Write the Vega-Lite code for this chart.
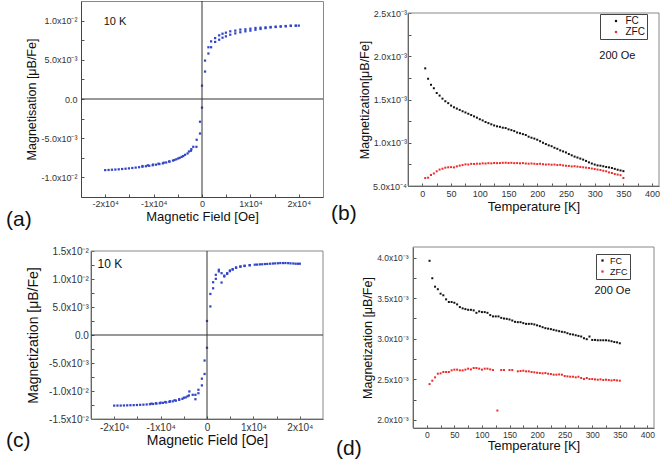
{
"$schema": "https://vega.github.io/schema/vega-lite/v6.json",
"autosize": {"type": "pad"},
"padding": {"left": 5, "top": 0, "right": 0, "bottom": 0},
"background": "white",
"columns": 2,
"align": "each",
"bounds": "flush",
"spacing": {"row": 50, "column": 85},
"resolve": {"scale": {"color": "independent"}, "legend": {"color": "independent"}},
"config": {
  "font": "Liberation Sans",
  "view": {"stroke": "#888", "strokeWidth": 1},
  "axis": {"grid": false, "domainColor": "#444", "domainWidth": 1, "tickColor": "#555", "tickSize": -3, "labelColor": "#333", "labelFont": "Liberation Sans", "labelFontSize": 9, "titleFont": "Liberation Sans", "titleFontWeight": "normal", "titleColor": "#111", "labelOverlap": false, "labelSeparation": 0, "labelFlush": false},
  "title": {"font": "Liberation Sans", "fontWeight": "normal", "color": "#111", "fontSize": 21},
  "legend": {"labelFont": "Liberation Sans", "labelColor": "#111"}
},
"concat": [
  {"width": 242, "height": 196,
   "title": {"text": "(a)", "orient": "bottom", "anchor": "start", "frame": "group", "align": "left", "dx": -75, "dy": 4, "offset": -18},
   "layer": [
    {"data": {"values": [
      {"H":20000,"M":0.00936},{"H":19380,"M":0.00936},{"H":18340,"M":0.00936},{"H":17300,"M":0.00931},{"H":16260,"M":0.00927},{"H":15220,"M":0.00923},{"H":14170,"M":0.00919},{"H":13130,"M":0.00914},{"H":12090,"M":0.0091},{"H":11050,"M":0.00906},{"H":10000,"M":0.00897},{"H":8965,"M":0.00889},{"H":7920,"M":0.00885},{"H":6880,"M":0.00872},{"H":5840,"M":0.00863},{"H":4940,"M":0.00846},{"H":4240,"M":0.00833},{"H":3550,"M":0.00812},{"H":2715,"M":0.00777},{"H":1880,"M":0.00735},{"H":1326,"M":0.0066},
      {"H":19380,"M":0.00934},{"H":18340,"M":0.00932},{"H":17300,"M":0.00927},{"H":16260,"M":0.00923},{"H":15220,"M":0.00918},{"H":14170,"M":0.00912},{"H":13130,"M":0.00903},{"H":12090,"M":0.00893},{"H":11050,"M":0.00883},{"H":10000,"M":0.00872},{"H":8965,"M":0.00863},{"H":7920,"M":0.00851},{"H":6880,"M":0.00837},{"H":5840,"M":0.0082},{"H":4940,"M":0.00799},{"H":4240,"M":0.00782},{"H":3550,"M":0.00756},{"H":2715,"M":0.00728},{"H":1880,"M":0.0066},{"H":1326,"M":0.0058},{"H":630,"M":0.0049},{"H":630,"M":0.0035},
      {"H":0,"M":0.0017},{"H":0,"M":-0.0011},
      {"H":-20000,"M":-0.00907},{"H":-19300,"M":-0.00905},{"H":-18600,"M":-0.00902},{"H":-17900,"M":-0.009},{"H":-17200,"M":-0.00897},{"H":-16500,"M":-0.00893},{"H":-15800,"M":-0.00889},{"H":-15100,"M":-0.00885},{"H":-14400,"M":-0.0088},{"H":-13700,"M":-0.00875},{"H":-13000,"M":-0.0087},{"H":-12300,"M":-0.00864},{"H":-11600,"M":-0.00858},{"H":-10900,"M":-0.00852},{"H":-10200,"M":-0.00845},{"H":-9500,"M":-0.00838},{"H":-8800,"M":-0.0083},{"H":-8100,"M":-0.00821},{"H":-7400,"M":-0.0081},{"H":-6700,"M":-0.00798},{"H":-6000,"M":-0.00785},{"H":-5300,"M":-0.00769},{"H":-4600,"M":-0.0075},{"H":-3880,"M":-0.00728},{"H":-2980,"M":-0.00695},{"H":-2280,"M":-0.0066},{"H":-1800,"M":-0.0061},{"H":-1150,"M":-0.0061},{"H":-1100,"M":-0.0052},{"H":-410,"M":-0.0044},{"H":-410,"M":-0.0029},
      {"H":-12300,"M":-0.00855},{"H":-11200,"M":-0.00846},{"H":-10100,"M":-0.00836},{"H":-9000,"M":-0.00825},{"H":-7900,"M":-0.00812},{"H":-6800,"M":-0.00797},{"H":-5700,"M":-0.00778},{"H":-4900,"M":-0.00758},{"H":-4200,"M":-0.00738},{"H":-3500,"M":-0.00712},{"H":-2700,"M":-0.0067},{"H":-2200,"M":-0.0064}
    ]},
     "mark": {"type": "square", "size": 5, "color": "#3246c8", "opacity": 1},
     "encoding": {
      "x": {"field": "H", "type": "quantitative", "scale": {"domain": [-25000, 25000], "nice": false, "zero": false},
            "axis": {"tickCount": 100, "labelOverlap": false, "title": "Magnetic Field [Oe]", "values": [-20000,-15000,-10000,-5000,0,5000,10000,15000,20000], "labelExpr": "round(datum.value/1000)==20?'2x10⁴':round(datum.value/1000)==10?'1x10⁴':round(datum.value/1000)==0?'0':round(datum.value/1000)==-10?'-1x10⁴':round(datum.value/1000)==-20?'-2x10⁴':''", "labelPadding": 5, "titlePadding": 2, "titleFontSize": 13, "labelFontSize": 9}},
      "y": {"field": "M", "type": "quantitative", "scale": {"domain": [-0.0125, 0.0125], "nice": false, "zero": false},
            "axis": {"tickCount": 100, "labelOverlap": false, "title": "Magnetisation [μB/Fe]", "values": [-0.01,-0.0075,-0.005,-0.0025,0,0.0025,0.005,0.0075,0.01], "labelExpr": "round(datum.value*4000)==40?'1.0x10⁻²':round(datum.value*4000)==20?'5.0x10⁻³':round(datum.value*4000)==0?'0.0':round(datum.value*4000)==-20?'-5.0x10⁻³':round(datum.value*4000)==-40?'-1.0x10⁻²':''", "labelPadding": 7, "titlePadding": 2, "titleFontSize": 12.5, "labelFontSize": 9}}
     }},
    {"data": {"values": [{}]}, "mark": {"type": "rule", "color": "#333", "strokeWidth": 1}, "encoding": {"y": {"datum": 0}}},
    {"data": {"values": [{}]}, "mark": {"type": "rule", "color": "#333", "strokeWidth": 1}, "encoding": {"x": {"datum": 0}}},
    {"data": {"values": [{}]}, "mark": {"type": "text", "fontSize": 11, "align": "left", "baseline": "middle", "color": "#111"}, "encoding": {"x": {"datum": -20300}, "y": {"datum": 0.00985}, "text": {"value": "10 K"}}}
   ]},
  {"width": 251, "height": 185,
   "view": {"stroke": null},
   "title": {"text": "(b)", "orient": "bottom", "anchor": "start", "frame": "group", "align": "left", "dx": -77, "dy": 8, "offset": -18},
   "layer": [
    {"data": {"values": [
      {"T":5,"M":0.00186,"s":"FC"},{"T":10,"M":0.00174,"s":"FC"},{"T":15,"M":0.00167,"s":"FC"},{"T":20,"M":0.00163,"s":"FC"},{"T":25,"M":0.001575,"s":"FC"},{"T":30,"M":0.001545,"s":"FC"},{"T":35,"M":0.00151,"s":"FC"},{"T":40,"M":0.00148,"s":"FC"},{"T":45,"M":0.001458,"s":"FC"},{"T":50,"M":0.00143,"s":"FC"},{"T":55,"M":0.00141,"s":"FC"},{"T":60,"M":0.001395,"s":"FC"},{"T":65,"M":0.00138,"s":"FC"},{"T":70,"M":0.001364,"s":"FC"},{"T":75,"M":0.00135,"s":"FC"},{"T":80,"M":0.001335,"s":"FC"},{"T":85,"M":0.00132,"s":"FC"},{"T":90,"M":0.001305,"s":"FC"},{"T":95,"M":0.00129,"s":"FC"},{"T":100,"M":0.001272,"s":"FC"},{"T":105,"M":0.001258,"s":"FC"},{"T":110,"M":0.00124,"s":"FC"},{"T":115,"M":0.001227,"s":"FC"},{"T":120,"M":0.001213,"s":"FC"},{"T":125,"M":0.0012,"s":"FC"},{"T":130,"M":0.00119,"s":"FC"},{"T":135,"M":0.001184,"s":"FC"},{"T":140,"M":0.001174,"s":"FC"},{"T":145,"M":0.00117,"s":"FC"},{"T":150,"M":0.001155,"s":"FC"},{"T":155,"M":0.001146,"s":"FC"},{"T":160,"M":0.001135,"s":"FC"},{"T":165,"M":0.001118,"s":"FC"},{"T":170,"M":0.00111,"s":"FC"},{"T":175,"M":0.0011,"s":"FC"},{"T":180,"M":0.00109,"s":"FC"},{"T":185,"M":0.00107,"s":"FC"},{"T":190,"M":0.001058,"s":"FC"},{"T":195,"M":0.001048,"s":"FC"},{"T":200,"M":0.001035,"s":"FC"},{"T":205,"M":0.001018,"s":"FC"},{"T":210,"M":0.001,"s":"FC"},{"T":215,"M":0.000985,"s":"FC"},{"T":220,"M":0.00097,"s":"FC"},{"T":225,"M":0.00096,"s":"FC"},{"T":230,"M":0.000942,"s":"FC"},{"T":235,"M":0.00093,"s":"FC"},{"T":240,"M":0.000912,"s":"FC"},{"T":245,"M":0.0009,"s":"FC"},{"T":250,"M":0.000888,"s":"FC"},{"T":255,"M":0.00087,"s":"FC"},{"T":260,"M":0.000855,"s":"FC"},{"T":265,"M":0.00084,"s":"FC"},{"T":270,"M":0.000829,"s":"FC"},{"T":275,"M":0.000817,"s":"FC"},{"T":280,"M":0.000805,"s":"FC"},{"T":285,"M":0.00079,"s":"FC"},{"T":290,"M":0.000773,"s":"FC"},{"T":295,"M":0.00076,"s":"FC"},{"T":300,"M":0.000748,"s":"FC"},{"T":305,"M":0.000738,"s":"FC"},{"T":310,"M":0.000735,"s":"FC"},{"T":315,"M":0.000728,"s":"FC"},{"T":320,"M":0.00072,"s":"FC"},{"T":325,"M":0.000715,"s":"FC"},{"T":330,"M":0.000708,"s":"FC"},{"T":335,"M":0.000698,"s":"FC"},{"T":340,"M":0.000688,"s":"FC"},{"T":345,"M":0.00068,"s":"FC"},{"T":350,"M":0.000672,"s":"FC"},
      {"T":5,"M":0.000592,"s":"ZFC"},{"T":10,"M":0.000596,"s":"ZFC"},{"T":15,"M":0.000627,"s":"ZFC"},{"T":20,"M":0.000645,"s":"ZFC"},{"T":25,"M":0.00067,"s":"ZFC"},{"T":30,"M":0.00069,"s":"ZFC"},{"T":35,"M":0.0007,"s":"ZFC"},{"T":40,"M":0.000712,"s":"ZFC"},{"T":45,"M":0.000716,"s":"ZFC"},{"T":50,"M":0.000718,"s":"ZFC"},{"T":55,"M":0.000715,"s":"ZFC"},{"T":60,"M":0.000727,"s":"ZFC"},{"T":65,"M":0.000736,"s":"ZFC"},{"T":70,"M":0.000742,"s":"ZFC"},{"T":75,"M":0.00075,"s":"ZFC"},{"T":80,"M":0.000748,"s":"ZFC"},{"T":85,"M":0.000756,"s":"ZFC"},{"T":90,"M":0.000755,"s":"ZFC"},{"T":95,"M":0.000758,"s":"ZFC"},{"T":100,"M":0.000757,"s":"ZFC"},{"T":105,"M":0.000762,"s":"ZFC"},{"T":110,"M":0.00076,"s":"ZFC"},{"T":115,"M":0.000764,"s":"ZFC"},{"T":120,"M":0.000762,"s":"ZFC"},{"T":125,"M":0.000766,"s":"ZFC"},{"T":130,"M":0.000764,"s":"ZFC"},{"T":135,"M":0.000765,"s":"ZFC"},{"T":140,"M":0.000768,"s":"ZFC"},{"T":145,"M":0.000769,"s":"ZFC"},{"T":150,"M":0.000766,"s":"ZFC"},{"T":155,"M":0.000768,"s":"ZFC"},{"T":160,"M":0.000764,"s":"ZFC"},{"T":165,"M":0.000765,"s":"ZFC"},{"T":170,"M":0.000762,"s":"ZFC"},{"T":175,"M":0.000765,"s":"ZFC"},{"T":180,"M":0.00076,"s":"ZFC"},{"T":185,"M":0.000758,"s":"ZFC"},{"T":190,"M":0.00076,"s":"ZFC"},{"T":195,"M":0.000757,"s":"ZFC"},{"T":200,"M":0.000754,"s":"ZFC"},{"T":205,"M":0.000757,"s":"ZFC"},{"T":210,"M":0.000752,"s":"ZFC"},{"T":215,"M":0.000748,"s":"ZFC"},{"T":220,"M":0.00075,"s":"ZFC"},{"T":225,"M":0.000746,"s":"ZFC"},{"T":230,"M":0.000748,"s":"ZFC"},{"T":235,"M":0.000742,"s":"ZFC"},{"T":240,"M":0.000745,"s":"ZFC"},{"T":245,"M":0.000738,"s":"ZFC"},{"T":250,"M":0.000734,"s":"ZFC"},{"T":255,"M":0.000732,"s":"ZFC"},{"T":260,"M":0.000726,"s":"ZFC"},{"T":265,"M":0.000729,"s":"ZFC"},{"T":270,"M":0.000724,"s":"ZFC"},{"T":275,"M":0.00072,"s":"ZFC"},{"T":280,"M":0.000716,"s":"ZFC"},{"T":285,"M":0.000712,"s":"ZFC"},{"T":290,"M":0.000708,"s":"ZFC"},{"T":295,"M":0.000702,"s":"ZFC"},{"T":300,"M":0.000696,"s":"ZFC"},{"T":305,"M":0.00069,"s":"ZFC"},{"T":310,"M":0.000685,"s":"ZFC"},{"T":315,"M":0.000676,"s":"ZFC"},{"T":320,"M":0.00067,"s":"ZFC"},{"T":325,"M":0.000657,"s":"ZFC"},{"T":330,"M":0.00065,"s":"ZFC"},{"T":335,"M":0.000638,"s":"ZFC"},{"T":340,"M":0.000632,"s":"ZFC"},{"T":345,"M":0.000625,"s":"ZFC"},{"T":350,"M":0.000592,"s":"ZFC"}
     ]},
     "mark": {"type": "square", "size": 4, "opacity": 1},
     "encoding": {
      "x": {"field": "T", "type": "quantitative", "scale": {"domain": [-25, 412], "nice": false, "zero": false},
            "axis": {"tickCount": 100, "labelOverlap": false, "title": "Temperature [K]", "values": [0,25,50,75,100,125,150,175,200,225,250,275,300,325,350,375,400], "labelExpr": "datum.value%50==0?''+datum.value:''", "labelPadding": 6, "titlePadding": 2, "titleFontSize": 13, "labelFontSize": 9}},
      "y": {"field": "M", "type": "quantitative", "scale": {"domain": [0.0005, 0.0025], "range": [185, 12], "nice": false, "zero": false},
            "axis": {"tickCount": 100, "labelOverlap": false, "title": "Magnetization[μB/Fe]", "values": [0.0005,0.00075,0.001,0.00125,0.0015,0.00175,0.002,0.00225,0.0025], "labelExpr": "round(datum.value*40000)==100?'2.5x10⁻³':round(datum.value*40000)==80?'2.0x10⁻³':round(datum.value*40000)==60?'1.5x10⁻³':round(datum.value*40000)==40?'1.0x10⁻³':round(datum.value*40000)==20?'5.0x10⁻⁴':''", "labelPadding": 4.6, "titlePadding": 1, "titleFontSize": 12.5, "labelFontSize": 9}},
      "color": {"field": "s", "type": "nominal", "scale": {"domain": ["FC", "ZFC"], "range": ["#111111", "#ee2b2b"]},
                "legend": {"title": null, "orient": "none", "legendX": 192, "legendY": 13, "strokeColor": "#444", "fillColor": "white", "padding": 2, "symbolType": "square", "symbolSize": 5, "symbolStrokeWidth": 0, "symbolOffset": 9, "labelOffset": 4.5, "labelFontSize": 10, "rowPadding": 1,
                           "encode": {"symbols": {"update": {"x": {"value": 14}}}}}}
     }},
    {"data": {"values": [{}]}, "mark": {"type": "rect", "fillOpacity": 0, "stroke": "#888", "strokeWidth": 1}, "encoding": {"x": {"datum": -25}, "x2": {"datum": 412}, "y": {"datum": 0.0005}, "y2": {"datum": 0.0025}}},
    {"data": {"values": [{}]}, "mark": {"type": "text", "fontSize": 11, "align": "left", "baseline": "middle", "color": "#111"}, "encoding": {"x": {"datum": 308}, "y": {"datum": 0.002003}, "text": {"value": "200 Oe"}}}
   ]},
  {"width": 242, "height": 172,
   "view": {"stroke": null},
   "title": {"text": "(c)", "orient": "bottom", "anchor": "start", "frame": "group", "align": "left", "dx": -75, "dy": 1, "offset": -18},
   "layer": [
    {"data": {"values": [
      {"H":0,"M":0.0025},{"H":725,"M":0.0051},{"H":725,"M":0.00733},{"H":1320,"M":0.00834},{"H":1320,"M":0.00942},{"H":1900,"M":0.01003},{"H":1900,"M":0.01075},{"H":2550,"M":0.01135},{"H":2550,"M":0.01165},{"H":3140,"M":0.01104},{"H":3140,"M":0.00937},{"H":3730,"M":0.01045},{"H":3730,"M":0.0106},{"H":4350,"M":0.01104},{"H":4350,"M":0.0109},{"H":4940,"M":0.01153},{"H":4940,"M":0.0114},{"H":5530,"M":0.01176},{"H":5530,"M":0.01168},{"H":6260,"M":0.01207},{"H":6260,"M":0.012},{"H":7200,"M":0.01225},{"H":7200,"M":0.01218},{"H":8100,"M":0.01237},{"H":8100,"M":0.01232},{"H":9200,"M":0.01248},{"H":9200,"M":0.01244},{"H":10300,"M":0.01255},{"H":10800,"M":0.01257},{"H":11400,"M":0.01261},{"H":11900,"M":0.01263},{"H":12500,"M":0.01267},{"H":13000,"M":0.01269},{"H":13600,"M":0.01273},{"H":14200,"M":0.01276},{"H":14700,"M":0.01279},{"H":15300,"M":0.01281},{"H":15800,"M":0.01285},{"H":16400,"M":0.01284},{"H":16900,"M":0.01285},{"H":17500,"M":0.01283},{"H":18000,"M":0.01279},{"H":18600,"M":0.01277},{"H":19100,"M":0.01273},{"H":19600,"M":0.01272},{"H":20000,"M":0.01273},
      {"H":-20000,"M":-0.01261},{"H":-19300,"M":-0.0126},{"H":-18600,"M":-0.0126},{"H":-17900,"M":-0.01258},{"H":-17200,"M":-0.01256},{"H":-16500,"M":-0.01254},{"H":-15800,"M":-0.01252},{"H":-15100,"M":-0.0125},{"H":-14400,"M":-0.01247},{"H":-13700,"M":-0.01244},{"H":-13000,"M":-0.0124},{"H":-12300,"M":-0.01236},{"H":-11600,"M":-0.01231},{"H":-10900,"M":-0.01226},{"H":-10200,"M":-0.01219},{"H":-9500,"M":-0.01212},{"H":-8800,"M":-0.01204},{"H":-8100,"M":-0.01195},{"H":-7400,"M":-0.01185},{"H":-6700,"M":-0.01172},{"H":-6000,"M":-0.01158},{"H":-5300,"M":-0.0114},{"H":-4600,"M":-0.01115},{"H":-3900,"M":-0.0108},
      {"H":-12000,"M":-0.01226},{"H":-11000,"M":-0.01218},{"H":-10000,"M":-0.01208},{"H":-9000,"M":-0.01196},{"H":-8000,"M":-0.01182},{"H":-7000,"M":-0.01166},{"H":-6000,"M":-0.01146},{"H":-5000,"M":-0.0112},{"H":-4200,"M":-0.01095},{"H":-3800,"M":-0.01008},{"H":-3080,"M":-0.01068},{"H":-2500,"M":-0.01068},{"H":-2500,"M":-0.01147},{"H":-1850,"M":-0.00978},{"H":-1850,"M":-0.0104},{"H":-1100,"M":-0.0078},{"H":-1100,"M":-0.009},{"H":-520,"M":-0.00456},{"H":-520,"M":-0.00696},{"H":0,"M":-0.00228}
    ]},
     "mark": {"type": "square", "size": 5, "color": "#3246c8", "opacity": 1},
     "encoding": {
      "x": {"field": "H", "type": "quantitative", "scale": {"domain": [-25000, 25000], "range": [10, 242], "nice": false, "zero": false},
            "axis": {"tickCount": 100, "labelOverlap": false, "title": "Magnetic Field [Oe]", "values": [-20000,-15000,-10000,-5000,0,5000,10000,15000,20000], "labelExpr": "round(datum.value/1000)==20?'2x10⁴':round(datum.value/1000)==10?'1x10⁴':round(datum.value/1000)==0?'0':round(datum.value/1000)==-10?'-1x10⁴':round(datum.value/1000)==-20?'-2x10⁴':''", "labelPadding": 6, "titlePadding": 1, "titleFontSize": 14, "labelFontSize": 10}},
      "y": {"field": "M", "type": "quantitative", "scale": {"domain": [-0.015, 0.015], "range": [172, 4], "nice": false, "zero": false},
            "axis": {"tickCount": 100, "labelOverlap": false, "offset": -10, "title": "Magnetization [μB/Fe]", "values": [-0.015,-0.0125,-0.01,-0.0075,-0.005,-0.0025,0,0.0025,0.005,0.0075,0.01,0.0125,0.015], "labelExpr": "round(datum.value*4000)==60?'1.5x10⁻²':round(datum.value*4000)==40?'1.0x10⁻²':round(datum.value*4000)==20?'5.0x10⁻³':round(datum.value*4000)==0?'0.0':round(datum.value*4000)==-20?'-5.0x10⁻³':round(datum.value*4000)==-40?'-1.0x10⁻²':round(datum.value*4000)==-60?'-1.5x10⁻²':''", "labelPadding": 5.7, "titlePadding": 8, "titleFontSize": 14, "labelFontSize": 10}}
     }},
    {"data": {"values": [{}]}, "mark": {"type": "rect", "fillOpacity": 0, "stroke": "#888", "strokeWidth": 1}, "encoding": {"x": {"datum": -25000}, "x2": {"datum": 25000}, "y": {"datum": -0.015}, "y2": {"datum": 0.015}}},
    {"data": {"values": [{}]}, "mark": {"type": "rule", "color": "#333", "strokeWidth": 1}, "encoding": {"y": {"datum": 0}, "x": {"datum": -25000}, "x2": {"datum": 25000}}},
    {"data": {"values": [{}]}, "mark": {"type": "rule", "color": "#333", "strokeWidth": 1}, "encoding": {"x": {"datum": 0}, "y": {"datum": -0.015}, "y2": {"datum": 0.015}}},
    {"data": {"values": [{}]}, "mark": {"type": "text", "fontSize": 12, "align": "left", "baseline": "middle", "color": "#111"}, "encoding": {"x": {"datum": -23600}, "y": {"datum": 0.0127}, "text": {"value": "10 K"}}}
   ]},
  {"width": 246, "height": 181,
   "view": {"stroke": null},
   "title": {"text": "(d)", "orient": "bottom", "anchor": "start", "frame": "group", "align": "left", "dx": -72, "dy": -1, "offset": -14},
   "layer": [
    {"data": {"values": [
      {"T":5,"M":0.00396,"s":"FC"},{"T":10,"M":0.003745,"s":"FC"},{"T":15,"M":0.003641,"s":"FC"},{"T":20,"M":0.00361,"s":"FC"},{"T":25,"M":0.003555,"s":"FC"},{"T":30,"M":0.003535,"s":"FC"},{"T":35,"M":0.003485,"s":"FC"},{"T":40,"M":0.003452,"s":"FC"},{"T":45,"M":0.003452,"s":"FC"},{"T":50,"M":0.003443,"s":"FC"},{"T":55,"M":0.003423,"s":"FC"},{"T":60,"M":0.00339,"s":"FC"},{"T":65,"M":0.003374,"s":"FC"},{"T":70,"M":0.003365,"s":"FC"},{"T":75,"M":0.003356,"s":"FC"},{"T":80,"M":0.003356,"s":"FC"},{"T":85,"M":0.003349,"s":"FC"},{"T":90,"M":0.003319,"s":"FC"},{"T":95,"M":0.003337,"s":"FC"},{"T":100,"M":0.003328,"s":"FC"},{"T":105,"M":0.003328,"s":"FC"},{"T":110,"M":0.003319,"s":"FC"},{"T":115,"M":0.003291,"s":"FC"},{"T":120,"M":0.003275,"s":"FC"},{"T":125,"M":0.003275,"s":"FC"},{"T":130,"M":0.003275,"s":"FC"},{"T":135,"M":0.003257,"s":"FC"},{"T":140,"M":0.003249,"s":"FC"},{"T":145,"M":0.003245,"s":"FC"},{"T":150,"M":0.003237,"s":"FC"},{"T":155,"M":0.003224,"s":"FC"},{"T":160,"M":0.003208,"s":"FC"},{"T":165,"M":0.003204,"s":"FC"},{"T":170,"M":0.003204,"s":"FC"},{"T":175,"M":0.003192,"s":"FC"},{"T":180,"M":0.003183,"s":"FC"},{"T":185,"M":0.003183,"s":"FC"},{"T":190,"M":0.003183,"s":"FC"},{"T":195,"M":0.003176,"s":"FC"},{"T":200,"M":0.003165,"s":"FC"},{"T":205,"M":0.003155,"s":"FC"},{"T":210,"M":0.003142,"s":"FC"},{"T":215,"M":0.00313,"s":"FC"},{"T":220,"M":0.003124,"s":"FC"},{"T":225,"M":0.003118,"s":"FC"},{"T":230,"M":0.003109,"s":"FC"},{"T":235,"M":0.003101,"s":"FC"},{"T":240,"M":0.003093,"s":"FC"},{"T":245,"M":0.003085,"s":"FC"},{"T":250,"M":0.00308,"s":"FC"},{"T":255,"M":0.003068,"s":"FC"},{"T":260,"M":0.003056,"s":"FC"},{"T":265,"M":0.003052,"s":"FC"},{"T":270,"M":0.003043,"s":"FC"},{"T":275,"M":0.003035,"s":"FC"},{"T":280,"M":0.003027,"s":"FC"},{"T":285,"M":0.003006,"s":"FC"},{"T":290,"M":0.002994,"s":"FC"},{"T":295,"M":0.003027,"s":"FC"},{"T":300,"M":0.002985,"s":"FC"},{"T":305,"M":0.002985,"s":"FC"},{"T":310,"M":0.002981,"s":"FC"},{"T":315,"M":0.002981,"s":"FC"},{"T":320,"M":0.002981,"s":"FC"},{"T":325,"M":0.002981,"s":"FC"},{"T":330,"M":0.002977,"s":"FC"},{"T":335,"M":0.002969,"s":"FC"},{"T":340,"M":0.00296,"s":"FC"},{"T":345,"M":0.002955,"s":"FC"},{"T":350,"M":0.002944,"s":"FC"},
      {"T":5,"M":0.002441,"s":"ZFC"},{"T":10,"M":0.002483,"s":"ZFC"},{"T":15,"M":0.002524,"s":"ZFC"},{"T":20,"M":0.002569,"s":"ZFC"},{"T":25,"M":0.002573,"s":"ZFC"},{"T":30,"M":0.00259,"s":"ZFC"},{"T":35,"M":0.00259,"s":"ZFC"},{"T":40,"M":0.00259,"s":"ZFC"},{"T":45,"M":0.00261,"s":"ZFC"},{"T":50,"M":0.002619,"s":"ZFC"},{"T":55,"M":0.002619,"s":"ZFC"},{"T":60,"M":0.00261,"s":"ZFC"},{"T":65,"M":0.00261,"s":"ZFC"},{"T":70,"M":0.002619,"s":"ZFC"},{"T":75,"M":0.002631,"s":"ZFC"},{"T":80,"M":0.002622,"s":"ZFC"},{"T":85,"M":0.002639,"s":"ZFC"},{"T":90,"M":0.002639,"s":"ZFC"},{"T":95,"M":0.002631,"s":"ZFC"},{"T":100,"M":0.002619,"s":"ZFC"},{"T":105,"M":0.002631,"s":"ZFC"},{"T":110,"M":0.002631,"s":"ZFC"},{"T":115,"M":0.002622,"s":"ZFC"},{"T":120,"M":0.002614,"s":"ZFC"},{"T":128,"M":0.002115,"s":"ZFC"},{"T":135,"M":0.002614,"s":"ZFC"},{"T":140,"M":0.002614,"s":"ZFC"},{"T":150,"M":0.002614,"s":"ZFC"},{"T":155,"M":0.002614,"s":"ZFC"},{"T":165,"M":0.002598,"s":"ZFC"},{"T":170,"M":0.002602,"s":"ZFC"},{"T":175,"M":0.002606,"s":"ZFC"},{"T":180,"M":0.002598,"s":"ZFC"},{"T":185,"M":0.002598,"s":"ZFC"},{"T":190,"M":0.00259,"s":"ZFC"},{"T":195,"M":0.002586,"s":"ZFC"},{"T":200,"M":0.002581,"s":"ZFC"},{"T":205,"M":0.002577,"s":"ZFC"},{"T":210,"M":0.002573,"s":"ZFC"},{"T":215,"M":0.002577,"s":"ZFC"},{"T":220,"M":0.002569,"s":"ZFC"},{"T":225,"M":0.002565,"s":"ZFC"},{"T":230,"M":0.002557,"s":"ZFC"},{"T":235,"M":0.002557,"s":"ZFC"},{"T":240,"M":0.00256,"s":"ZFC"},{"T":245,"M":0.002557,"s":"ZFC"},{"T":250,"M":0.00254,"s":"ZFC"},{"T":255,"M":0.002536,"s":"ZFC"},{"T":260,"M":0.002532,"s":"ZFC"},{"T":265,"M":0.002532,"s":"ZFC"},{"T":270,"M":0.002524,"s":"ZFC"},{"T":275,"M":0.002532,"s":"ZFC"},{"T":280,"M":0.002516,"s":"ZFC"},{"T":285,"M":0.002503,"s":"ZFC"},{"T":290,"M":0.002516,"s":"ZFC"},{"T":295,"M":0.002503,"s":"ZFC"},{"T":300,"M":0.002503,"s":"ZFC"},{"T":305,"M":0.002499,"s":"ZFC"},{"T":310,"M":0.002495,"s":"ZFC"},{"T":315,"M":0.002499,"s":"ZFC"},{"T":320,"M":0.002491,"s":"ZFC"},{"T":325,"M":0.002495,"s":"ZFC"},{"T":330,"M":0.002491,"s":"ZFC"},{"T":335,"M":0.002486,"s":"ZFC"},{"T":340,"M":0.002491,"s":"ZFC"},{"T":345,"M":0.002486,"s":"ZFC"},{"T":350,"M":0.002483,"s":"ZFC"}
     ]},
     "mark": {"type": "square", "size": 4, "opacity": 1},
     "encoding": {
      "x": {"field": "T", "type": "quantitative", "scale": {"domain": [-25, 412], "range": [5, 246], "nice": false, "zero": false},
            "axis": {"tickCount": 100, "labelOverlap": false, "title": "Temperature [K]", "values": [0,25,50,75,100,125,150,175,200,225,250,275,300,325,350,375,400], "labelExpr": "datum.value%50==0?''+datum.value:''", "labelPadding": 5, "titlePadding": 1, "titleFontSize": 13, "labelFontSize": 8.5}},
      "y": {"field": "M", "type": "quantitative", "scale": {"domain": [0.0019, 0.00413], "nice": false, "zero": false},
            "axis": {"tickCount": 100, "labelOverlap": false, "offset": -5, "title": "Magnetization [μB/Fe]", "values": [0.002,0.00225,0.0025,0.00275,0.003,0.00325,0.0035,0.00375,0.004], "labelExpr": "round(datum.value*40000)==160?'4.0x10⁻³':round(datum.value*40000)==140?'3.5x10⁻³':round(datum.value*40000)==120?'3.0x10⁻³':round(datum.value*40000)==100?'2.5x10⁻³':round(datum.value*40000)==80?'2.0x10⁻³':''", "labelPadding": 8, "titlePadding": 2, "titleFontSize": 12.5, "labelFontSize": 8.5}},
      "color": {"field": "s", "type": "nominal", "scale": {"domain": ["FC", "ZFC"], "range": ["#111111", "#ee2b2b"]},
                "legend": {"title": null, "orient": "none", "legendX": 188, "legendY": 7, "strokeColor": "#444", "fillColor": "white", "padding": 2, "symbolType": "square", "symbolSize": 5, "symbolStrokeWidth": 0, "symbolOffset": 0, "labelOffset": 3, "labelFontSize": 9, "rowPadding": 1,
                           "encode": {"symbols": {"update": {"x": {"value": 10}}}}}}
     }},
    {"data": {"values": [{}]}, "mark": {"type": "rect", "fillOpacity": 0, "stroke": "#888", "strokeWidth": 1}, "encoding": {"x": {"datum": -25}, "x2": {"datum": 412}, "y": {"datum": 0.0019}, "y2": {"datum": 0.00413}}},
    {"data": {"values": [{}]}, "mark": {"type": "text", "fontSize": 11, "align": "left", "baseline": "middle", "color": "#111"}, "encoding": {"x": {"datum": 304}, "y": {"datum": 0.003584}, "text": {"value": "200 Oe"}}}
   ]}
]
}
